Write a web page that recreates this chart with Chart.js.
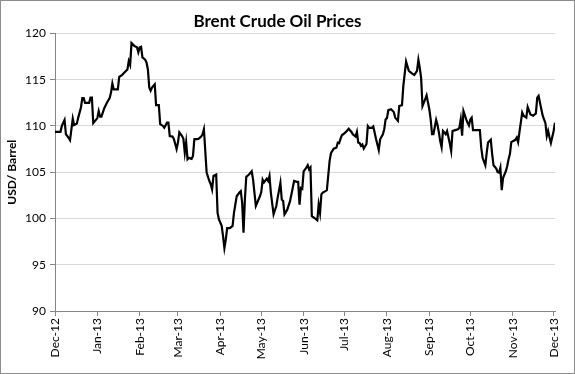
<!DOCTYPE html>
<html>
<head>
<meta charset="utf-8">
<script src="https://cdn.jsdelivr.net/npm/chart.js@4.4.0/dist/chart.umd.min.js"></script>
<style>
  html, body { margin: 0; padding: 0; background: #fff; }
  #wrap { width: 575px; height: 374px; position: relative; }
</style>
</head>
<body>
<div id="wrap"><canvas id="chart"></canvas></div>
<script>
// days since 1 Dec 2012 (trading days)
const dayOffsets = [
  0, 4, 5, 7, 8, 10, 11, 13, 14, 16, 17, 19, 20, 21, 22, 25, 26, 27, 28, 31,
  32, 33, 34, 36, 38, 40, 41, 42, 43, 46, 47, 49, 51, 53, 54, 55, 56, 58, 60, 61,
  62, 63, 64, 66, 67, 68, 69, 70, 71, 73, 74, 76, 77, 79, 80, 82, 83, 84, 86, 87,
  89, 90, 91, 93, 94, 95, 96, 97, 98, 100, 101, 102, 105, 107, 108, 109, 111, 113, 114, 115,
  116, 118, 119, 120, 122, 123, 124, 125, 126, 128, 130, 131, 133, 135, 136, 137, 138, 139, 140, 142,
  144, 145, 147, 148, 150, 151, 152, 153, 155, 156, 157, 158, 160, 162, 163, 165, 166, 167, 168, 170,
  172, 174, 175, 177, 178, 179, 180, 181, 182, 184, 185, 186, 187, 188, 190, 192, 193, 194, 195, 196,
  198, 199, 201, 202, 204, 206, 207, 208, 209, 210, 211, 213, 215, 217, 218, 220, 221, 222, 223, 224,
  225, 226, 228, 229, 230, 232, 233, 235, 237, 238, 240, 241, 242, 243, 244, 246, 248, 249, 251, 252,
  254, 255, 257, 259, 261, 263, 265, 266, 267, 268, 269, 271, 272, 274, 275, 276, 277, 279, 280, 281,
  282, 283, 284, 286, 287, 289, 290, 291, 293, 295, 296, 297, 298, 299, 301, 302, 303, 304, 305, 306,
  309, 311, 312, 313, 315, 316, 317, 319, 320, 321, 323, 324, 325, 326, 327, 328, 330, 331, 332, 333,
  334, 337, 338, 339, 340, 342, 343, 345, 346, 348, 350, 352, 353, 354, 356, 357, 359, 360, 361, 362,
  363, 365, 366
];

// USD per barrel
const prices = [
  109.35, 109.35, 110.0, 110.65, 109.1, 108.7, 108.45, 110.8, 110.1, 110.25, 110.9, 112.0, 113.0, 113.0, 112.5, 112.5, 113.05, 113.05, 110.3, 110.85,
  111.6, 111.0, 111.0, 111.9, 112.5, 113.0, 113.6, 114.6, 113.95, 113.95, 115.3, 115.5, 115.8, 116.1, 117.0, 116.6, 118.95, 118.65, 118.5, 117.95,
  118.5, 118.55, 117.4, 117.15, 116.85, 116.1, 114.15, 113.8, 114.15, 114.5, 112.25, 112.25, 110.2, 110.0, 109.8, 110.35, 110.35, 108.9, 108.85, 108.6,
  107.5, 108.2, 109.3, 108.9, 108.6, 107.1, 108.25, 106.4, 106.55, 106.45, 106.75, 108.55, 108.6, 108.85, 109.1, 109.65, 104.95, 104.05, 103.7, 103.15,
  104.6, 104.75, 100.6, 99.9, 99.2, 98.1, 96.8, 97.7, 98.95, 98.95, 99.2, 100.6, 102.4, 102.8, 102.95, 101.7, 98.45, 102.05, 104.5, 104.75,
  105.1, 104.2, 101.35, 101.7, 102.4, 102.85, 104.2, 103.9, 104.3, 104.05, 104.6, 102.8, 100.45, 101.35, 102.25, 103.85, 102.05, 101.9, 100.45, 100.95,
  101.85, 103.3, 104.05, 103.95, 103.95, 101.5, 103.3, 103.2, 105.1, 105.5, 105.75, 105.3, 105.5, 100.25, 100.05, 99.8, 101.5, 100.6, 102.6, 102.8,
  102.95, 103.05, 106.2, 107.05, 107.55, 107.65, 108.2, 108.15, 108.6, 109.0, 109.1, 109.35, 109.7, 109.35, 109.1, 108.85, 109.35, 108.2, 108.15, 107.85,
  108.0, 107.55, 108.05, 110.0, 109.8, 109.8, 109.95, 108.6, 107.4, 108.55, 109.1, 109.65, 110.7, 110.85, 111.7, 111.8, 111.5, 110.9, 110.55, 112.15,
  112.25, 114.35, 116.95, 115.95, 115.7, 115.5, 115.95, 117.15, 116.3, 115.2, 112.15, 112.9, 113.3, 111.8, 110.7, 109.1, 109.1, 110.65, 110.1, 109.3,
  108.35, 107.7, 109.45, 109.1, 109.45, 108.1, 107.3, 109.45, 109.55, 109.65, 109.8, 110.7, 108.95, 111.6, 110.7, 110.35, 110.05, 110.7, 110.9, 109.55,
  109.55, 109.55, 107.65, 106.55, 105.75, 107.1, 108.2, 108.5, 106.95, 105.75, 105.4, 105.0, 104.95, 105.5, 103.05, 104.4, 105.1, 105.65, 106.4, 106.95,
  108.25, 108.5, 108.75, 108.25, 109.35, 111.45, 111.1, 110.9, 112.05, 111.25, 111.1, 111.35, 113.05, 113.25, 111.8, 111.1, 110.3, 108.9, 109.45, 108.75,
  108.15, 109.45, 110.35
];

// x tick positions (first of each month) and their labels
const monthStarts = [0, 31, 62, 90, 121, 151, 182, 212, 243, 274, 304, 335, 365];
const monthLabels = ['Dec-12', 'Jan-13', 'Feb-13', 'Mar-13', 'Apr-13', 'May-13', 'Jun-13',
  'Jul-13', 'Aug-13', 'Sep-13', 'Oct-13', 'Nov-13', 'Dec-13'];

const points = dayOffsets.map((d, i) => ({ x: d, y: prices[i] }));

const FONT = 'Lato, "Open Sans", sans-serif';
const axisGray = '#868686';

// grey frame round the whole chart, like the spreadsheet chart border
const frame = {
  id: 'frame',
  beforeDraw(chart) {
    const ctx = chart.ctx;
    ctx.save();
    ctx.fillStyle = '#fff';
    ctx.fillRect(0, 0, chart.width, chart.height);
    ctx.restore();
  },
  afterDraw(chart) {
    const ctx = chart.ctx;
    ctx.save();
    ctx.strokeStyle = '#8c8c8c';
    ctx.lineWidth = 1;
    ctx.strokeRect(0.5, 0.5, chart.width - 1, chart.height - 1);
    ctx.restore();
  }
};

new Chart(document.getElementById('chart'), {
  type: 'line',
  data: {
    datasets: [{
      data: points,
      borderColor: '#000',
      borderWidth: 2.2,
      pointRadius: 0,
      tension: 0,
      fill: false
    }]
  },
  options: {
    responsive: true,
    maintainAspectRatio: false,
    animation: false,
    layout: { padding: { left: 0, right: 20, top: 0, bottom: 0 } },
    plugins: {
      legend: { display: false },
      tooltip: { enabled: false },
      title: {
        display: true,
        text: 'Brent Crude Oil Prices',
        color: '#000',
        font: { family: FONT, size: 17, weight: 'bold' },
        padding: { top: 11, bottom: 2 }
      }
    },
    scales: {
      x: {
        type: 'linear',
        min: 0,
        max: 366,
        afterBuildTicks(scale) {
          scale.ticks = monthStarts.map(v => ({ value: v }));
        },
        afterFit(scale) { scale.height = 63; },
        ticks: {
          autoSkip: false,
          minRotation: 90,
          maxRotation: 90,
          padding: 2,
          color: '#000',
          font: { family: FONT, size: 12 },
          callback(value) {
            const i = monthStarts.indexOf(value);
            return i >= 0 ? monthLabels[i] : '';
          }
        },
        grid: {
          drawOnChartArea: false,
          drawTicks: true,
          tickLength: 5,
          tickColor: axisGray
        },
        border: { color: axisGray, width: 1 }
      },
      y: {
        min: 90,
        max: 120,
        afterFit(scale) { scale.width = 55; },
        ticks: {
          stepSize: 5,
          padding: 4,
          color: '#000',
          font: { family: FONT, size: 12 }
        },
        grid: {
          color: '#d9d9d9',
          tickColor: axisGray,
          tickLength: 5
        },
        border: { color: axisGray, width: 1 },
        title: {
          display: true,
          text: 'USD/ Barrel',
          color: '#000',
          font: { family: FONT, size: 12, weight: 'bold' },
          padding: { top: 5, bottom: 0 }
        }
      }
    }
  },
  plugins: [frame]
});
</script>
</body>
</html>
